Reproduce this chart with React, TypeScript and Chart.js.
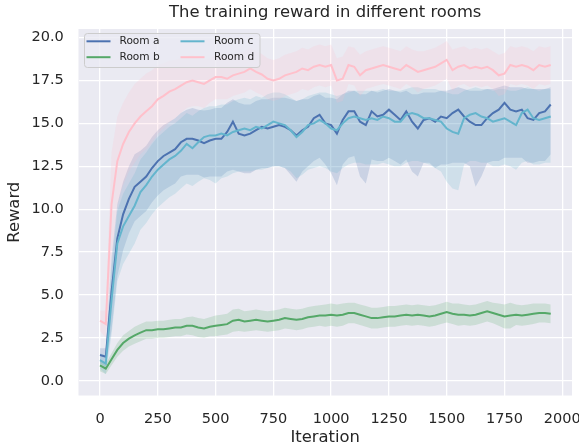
import React, { useEffect, useRef } from "react";
import { Chart, registerables } from "chart.js";

Chart.register(...registerables);

const iterations = [
  0, 25, 50, 75, 100, 125, 150, 175, 200, 225,
  250, 275, 300, 325, 350, 375, 400, 425, 450, 475,
  500, 525, 550, 575, 600, 625, 650, 675, 700, 725,
  750, 775, 800, 825, 850, 875, 900, 925, 950, 975,
  1000, 1025, 1050, 1075, 1100, 1125, 1150, 1175, 1200, 1225,
  1250, 1275, 1300, 1325, 1350, 1375, 1400, 1425, 1450, 1475,
  1500, 1525, 1550, 1575, 1600, 1625, 1650, 1675, 1700, 1725,
  1750, 1775, 1800, 1825, 1850, 1875, 1900, 1925, 1950,
];

// Room a (mean, spread below, spread above)
const roomA = [
  1.5, 1.4, 5.2, 8.3, 9.7, 10.6, 11.3, 11.6, 11.9, 12.4,
  12.8, 13.1, 13.3, 13.5, 13.9, 14.1, 14.1, 14.0, 13.85, 14.0,
  14.1, 14.1, 14.5, 15.1, 14.4, 14.3, 14.4, 14.6, 14.8, 14.7,
  14.8, 14.9, 14.8, 14.6, 14.3, 14.6, 14.8, 15.3, 15.5, 15.0,
  14.9, 14.4, 15.2, 15.7, 15.7, 15.1, 14.9, 15.7, 15.4, 15.5,
  15.8, 15.5, 15.2, 15.7, 15.1, 14.7, 15.2, 15.3, 15.1, 15.4,
  15.3, 15.6, 15.8, 15.4, 15.1, 14.9, 14.9, 15.3, 15.6, 15.8,
  16.2, 15.8, 15.7, 15.8, 15.3, 15.2, 15.6, 15.7, 16.1,
];
const roomALo = [
  0.5, 0.6, 2.2, 2.2, 2.1, 2.0, 2.0, 2.0, 2.0, 2.0,
  2.0, 2.0, 2.0, 2.0, 2.0, 2.1, 2.1, 2.0, 2.0, 2.1,
  2.2, 2.2, 2.3, 2.8, 2.2, 2.2, 2.3, 2.3, 2.4, 2.3,
  2.3, 2.4, 2.4, 2.6, 2.7, 2.4, 2.3, 2.5, 2.5, 2.4,
  2.8, 3.0, 2.6, 2.7, 2.6, 3.2, 3.4, 2.8, 2.6, 2.7,
  2.8, 2.7, 2.6, 2.8, 2.9, 2.8, 2.5, 2.6, 2.7, 2.8,
  2.7, 2.9, 3.1, 2.7, 2.6, 3.6, 3.0, 2.6, 2.8, 3.0,
  3.2, 2.8, 2.7, 2.8, 2.6, 2.5, 2.8, 2.9, 2.9,
];
const roomAHi = [
  0.4, 0.5, 2.0, 2.0, 1.9, 1.9, 1.9, 1.8, 1.8, 1.8,
  1.8, 1.8, 1.8, 1.8, 1.7, 1.7, 1.8, 1.8, 1.9, 1.8,
  1.8, 1.8, 1.7, 1.3, 1.8, 1.8, 1.7, 1.7, 1.6, 1.7,
  1.7, 1.6, 1.7, 1.8, 2.0, 1.8, 1.6, 1.3, 1.2, 1.5,
  1.6, 2.0, 1.5, 1.2, 1.2, 1.6, 1.8, 1.2, 1.4, 1.4,
  1.2, 1.4, 1.6, 1.2, 1.6, 2.0, 1.6, 1.5, 1.7, 1.5,
  1.6, 1.4, 1.3, 1.6, 1.8, 2.0, 2.0, 1.7, 1.4, 1.3,
  1.0, 1.3, 1.4, 1.3, 1.7, 1.8, 1.4, 1.3, 1.0,
];

// Room b
const roomB = [
  0.9, 0.7, 1.25, 1.8, 2.2, 2.45, 2.65, 2.8, 2.95, 2.95,
  3.0, 3.0, 3.05, 3.1, 3.1, 3.2, 3.2, 3.1, 3.05, 3.15,
  3.2, 3.25, 3.3, 3.5, 3.55, 3.45, 3.5, 3.55, 3.5, 3.45,
  3.5, 3.55, 3.65, 3.6, 3.55, 3.6, 3.7, 3.75, 3.8, 3.8,
  3.85, 3.8, 3.85, 3.95, 3.95, 3.85, 3.75, 3.65, 3.65, 3.7,
  3.75, 3.75, 3.8, 3.85, 3.8, 3.85, 3.8, 3.75, 3.8, 3.9,
  4.0, 3.9, 3.85, 3.85, 3.8, 3.85, 3.95, 4.05, 3.95, 3.85,
  3.75, 3.8, 3.85, 3.8, 3.85, 3.9, 3.95, 3.95, 3.9,
];
const roomBSpread = [
  0.35, 0.3, 0.35, 0.4, 0.45, 0.45, 0.5, 0.5, 0.5, 0.5,
  0.5, 0.5, 0.5, 0.5, 0.5, 0.5, 0.55, 0.55, 0.55, 0.55,
  0.6, 0.6, 0.6, 0.65, 0.65, 0.6, 0.6, 0.6, 0.6, 0.6,
  0.6, 0.6, 0.6, 0.6, 0.6, 0.6, 0.6, 0.6, 0.6, 0.65,
  0.65, 0.65, 0.65, 0.6, 0.6, 0.6, 0.6, 0.6, 0.6, 0.6,
  0.6, 0.6, 0.6, 0.6, 0.6, 0.6, 0.6, 0.6, 0.6, 0.6,
  0.6, 0.6, 0.65, 0.6, 0.6, 0.6, 0.6, 0.6, 0.6, 0.65,
  0.7, 0.75, 0.6, 0.6, 0.6, 0.6, 0.55, 0.55, 0.55,
];

// Room c
const roomC = [
  1.2, 1.0, 4.7, 8.0, 9.0, 9.6, 10.2, 11.0, 11.4, 11.9,
  12.3, 12.6, 12.9, 13.1, 13.4, 13.8, 13.55, 13.9, 14.2, 14.3,
  14.3, 14.4, 14.3, 14.5, 14.6, 14.7, 14.6, 14.8, 14.7, 14.9,
  15.1, 15.0, 14.9, 14.6, 14.2, 14.5, 14.9, 15.0, 15.2, 15.0,
  14.7, 14.6, 15.0, 15.3, 15.4, 15.3, 15.2, 15.3, 15.2, 15.4,
  15.3, 15.1, 15.1, 15.5, 15.6, 15.5, 15.3, 15.3, 15.2, 15.1,
  14.7, 14.5, 14.4, 15.3, 15.5, 15.6, 15.4, 15.3, 15.1, 15.2,
  15.3, 15.1, 14.9, 15.6, 15.8, 15.3, 15.2, 15.3, 15.4,
];
const roomCLo = [
  0.5, 0.6, 2.0, 2.2, 2.2, 2.2, 2.2, 2.2, 2.2, 2.2,
  2.2, 2.2, 2.2, 2.2, 2.2, 2.3, 2.2, 2.3, 2.4, 2.6,
  2.8, 2.6, 2.4, 2.4, 2.4, 2.5, 2.4, 2.5, 2.4, 2.5,
  2.6, 2.5, 2.5, 2.4, 2.4, 2.5, 2.6, 2.6, 2.7, 2.6,
  2.5, 2.5, 2.6, 2.7, 2.7, 2.6, 2.6, 2.7, 2.6, 2.7,
  2.7, 2.6, 2.6, 2.8, 2.8, 2.7, 2.6, 2.7, 2.8, 2.9,
  3.1, 3.3, 3.3, 2.7, 2.7, 2.8, 2.7, 2.6, 2.6, 2.7,
  2.7, 2.6, 2.6, 2.9, 3.0, 2.7, 2.6, 2.6, 2.7,
];
const roomCHi = [
  0.4, 0.5, 1.8, 1.9, 1.9, 1.9, 1.9, 1.9, 1.9, 1.9,
  1.9, 1.9, 1.9, 1.9, 1.9, 1.8, 1.9, 1.8, 1.7, 1.7,
  1.7, 1.7, 1.8, 1.8, 1.8, 1.8, 1.8, 1.8, 1.8, 1.8,
  1.7, 1.8, 1.8, 1.9, 2.1, 1.9, 1.7, 1.7, 1.6, 1.8,
  2.0, 2.0, 1.7, 1.5, 1.5, 1.6, 1.7, 1.6, 1.7, 1.6,
  1.6, 1.8, 1.8, 1.5, 1.5, 1.6, 1.7, 1.7, 1.8, 1.8,
  2.1, 2.2, 2.3, 1.6, 1.5, 1.5, 1.6, 1.7, 1.8, 1.8,
  1.7, 1.8, 2.0, 1.4, 1.3, 1.7, 1.7, 1.7, 1.6,
];

// Room d
const roomD = [
  3.5, 3.3, 10.3, 12.8, 13.8, 14.5, 15.0, 15.4, 15.7, 16.0,
  16.4, 16.6, 16.85, 17.0, 17.2, 17.4, 17.5, 17.4, 17.3, 17.5,
  17.7, 17.7, 17.6, 17.8, 17.9, 18.0, 18.2, 18.0, 17.85, 17.6,
  17.5, 17.6, 17.8, 17.9, 18.0, 18.2, 18.1, 18.3, 18.4, 18.3,
  18.4, 17.5, 17.6, 18.4, 18.3, 17.8, 18.1, 18.2, 18.3, 18.4,
  18.3, 18.2, 18.1, 18.4, 18.2, 18.0, 18.1, 18.2, 18.3, 18.5,
  18.7, 18.1, 18.3, 18.4, 18.2, 18.3, 18.2, 18.3, 18.1, 17.8,
  17.9, 18.4, 18.3, 18.4, 18.3, 18.1, 18.4, 18.3, 18.4,
];
const roomDSpread = [
  0.6, 0.8, 3.0, 2.6, 2.4, 2.3, 2.3, 2.2, 2.2, 2.1,
  2.0, 1.9, 1.8, 1.7, 1.6, 1.5, 1.5, 1.4, 1.4, 1.3,
  1.3, 1.3, 1.2, 1.2, 1.2, 1.2, 1.2, 1.2, 1.2, 1.2,
  1.2, 1.2, 1.2, 1.2, 1.2, 1.2, 1.2, 1.2, 1.2, 1.2,
  1.2, 1.3, 1.3, 1.1, 1.1, 1.2, 1.1, 1.1, 1.1, 1.1,
  1.1, 1.1, 1.1, 1.1, 1.1, 1.2, 1.1, 1.1, 1.1, 1.1,
  1.1, 1.2, 1.1, 1.1, 1.1, 1.1, 1.1, 1.1, 1.1, 1.2,
  1.2, 1.1, 1.1, 1.1, 1.1, 1.1, 1.1, 1.1, 1.1,
];

const labels = ["Room a", "Room b", "Room c", "Room d"];
const lineColors = ["#4C72B0", "#55A868", "#64B5CD", "#FFC0CB"];
const bandColors = [
  "rgba(76,114,176,0.2)",
  "rgba(85,168,104,0.2)",
  "rgba(100,181,205,0.2)",
  "rgba(255,192,203,0.2)",
];

const titleText = "The training reward in different rooms";
const xTicks = [0, 250, 500, 750, 1000, 1250, 1500, 1750, 2000];
const yTicks = [0, 2.5, 5, 7.5, 10, 12.5, 15, 17.5, 20];

const FONT = "'DejaVu Sans', sans-serif";
const TEXT = "#262626";

const bgPlugin = {
  id: "plotBg",
  beforeDraw(chart: any) {
    const { ctx, chartArea } = chart;
    ctx.save();
    ctx.fillStyle = "#FFFFFF";
    ctx.fillRect(0, 0, chart.width, chart.height);
    ctx.fillStyle = "#EAEAF2";
    ctx.fillRect(chartArea.left, chartArea.top, chartArea.right - chartArea.left, chartArea.bottom - chartArea.top);
    ctx.restore();
  },
};

const titlePlugin = {
  id: "centeredTitle",
  afterDraw(chart: any) {
    const ctx = chart.ctx as CanvasRenderingContext2D;
    const { chartArea } = chart;
    ctx.save();
    ctx.font = `16.4px ${FONT}`;
    ctx.fillStyle = TEXT;
    ctx.textAlign = "center";
    ctx.textBaseline = "middle";
    ctx.fillText(titleText, (chartArea.left + chartArea.right) / 2, 13);
    ctx.restore();
  },
};

const legendPlugin = {
  id: "roomLegend",
  afterDraw(chart: any) {
    const ctx = chart.ctx as CanvasRenderingContext2D;
    ctx.save();
    const bx = 84.5, by = 33.5, bw = 175.5, bh = 34;
    ctx.beginPath();
    if ((ctx as any).roundRect) (ctx as any).roundRect(bx, by, bw, bh, 3);
    else ctx.rect(bx, by, bw, bh);
    ctx.fillStyle = "rgba(234,234,242,0.8)";
    ctx.fill();
    ctx.strokeStyle = "#cccccc";
    ctx.lineWidth = 1;
    ctx.stroke();
    const cols = [
      { lx: 86.5, tx: 119.5 },
      { lx: 180.5, tx: 214 },
    ];
    const rows = [41.3, 57.2];
    ctx.font = `10.6px ${FONT}`;
    ctx.textBaseline = "middle";
    ctx.textAlign = "left";
    labels.forEach((lab, i) => {
      const c = cols[Math.floor(i / 2)];
      const r = rows[i % 2];
      ctx.strokeStyle = lineColors[i];
      ctx.lineWidth = 2;
      ctx.beginPath();
      ctx.moveTo(c.lx, r);
      ctx.lineTo(c.lx + 24, r);
      ctx.stroke();
      ctx.fillStyle = TEXT;
      ctx.fillText(lab, c.tx, r);
    });
    ctx.restore();
  },
};

export default function App() {
  const ref = useRef<HTMLCanvasElement>(null);

  useEffect(() => {
    if (!ref.current) return;
    const means = [roomA, roomB, roomC, roomD];
    const los = [roomALo, roomBSpread, roomCLo, roomDSpread];
    const his = [roomAHi, roomBSpread, roomCHi, roomDSpread];

    const datasets: any[] = [];
    means.forEach((m, i) => {
      datasets.push({
        label: labels[i] + " upper",
        data: iterations.map((x, j) => ({ x, y: m[j] + his[i][j] })),
        borderWidth: 0,
        borderColor: "rgba(0,0,0,0)",
        pointRadius: 0,
        fill: false,
        order: 20 - i * 2,
      });
      datasets.push({
        label: labels[i] + " lower",
        data: iterations.map((x, j) => ({ x, y: m[j] - los[i][j] })),
        borderWidth: 0,
        borderColor: "rgba(0,0,0,0)",
        backgroundColor: bandColors[i],
        pointRadius: 0,
        fill: "-1",
        order: 20 - i * 2,
      });
    });
    means.forEach((m, i) => {
      datasets.push({
        label: labels[i],
        data: iterations.map((x, j) => ({ x, y: m[j] })),
        borderColor: lineColors[i],
        borderWidth: 2,
        pointRadius: 0,
        fill: false,
        tension: 0,
        order: 5 - i,
      });
    });

    const chart = new Chart(ref.current, {
      type: "line",
      data: { datasets },
      plugins: [bgPlugin, legendPlugin, titlePlugin],
      options: {
        animation: false,
        responsive: false,
        maintainAspectRatio: false,
        devicePixelRatio: 1,
        layout: { padding: { left: 0, right: 7, top: 29, bottom: 0 } },
        plugins: {
          legend: { display: false },
          tooltip: { enabled: false },
          title: { display: false },
        },
        scales: {
          x: {
            type: "linear",
            min: -93,
            max: 2042,
            afterBuildTicks: (s: any) => {
              s.ticks = xTicks.map((v) => ({ value: v }));
            },
            afterFit: (s: any) => {
              s.height = 52.5;
              s.paddingLeft = 0;
              s.paddingRight = 0;
            },
            ticks: {
              color: TEXT,
              font: { family: FONT, size: 14.5 },
              padding: 14.7,
              maxRotation: 0,
              autoSkip: false,
              callback: (v: any) => String(v),
            },
            grid: { color: "#FFFFFF", lineWidth: 1.3, drawTicks: false, tickLength: 0 },
            border: { display: false },
            title: {
              display: true,
              text: "Iteration",
              color: TEXT,
              font: { family: FONT, size: 16.4 },
              padding: { top: 0, bottom: 0 },
            },
          },
          y: {
            type: "linear",
            min: -0.86,
            max: 20.5,
            afterBuildTicks: (s: any) => {
              s.ticks = yTicks.map((v) => ({ value: v }));
            },
            afterFit: (s: any) => {
              s.width = 78.5;
              s.paddingTop = 0;
              s.paddingBottom = 0;
            },
            ticks: {
              color: TEXT,
              font: { family: FONT, size: 14.5 },
              padding: 14.7,
              autoSkip: false,
              callback: (v: any) => Number(v).toFixed(1),
            },
            grid: { color: "#FFFFFF", lineWidth: 1.3, drawTicks: false, tickLength: 0 },
            border: { display: false },
            title: {
              display: true,
              text: "Reward",
              color: TEXT,
              font: { family: FONT, size: 16.4 },
              padding: { top: 5, bottom: 0 },
            },
          },
        },
      } as any,
    });
    return () => chart.destroy();
  }, []);

  return (
    <div style={{ position: "absolute", left: 0, top: 0, width: 579, height: 448 }}>
      <canvas ref={ref} width={579} height={448} />
    </div>
  );
}
